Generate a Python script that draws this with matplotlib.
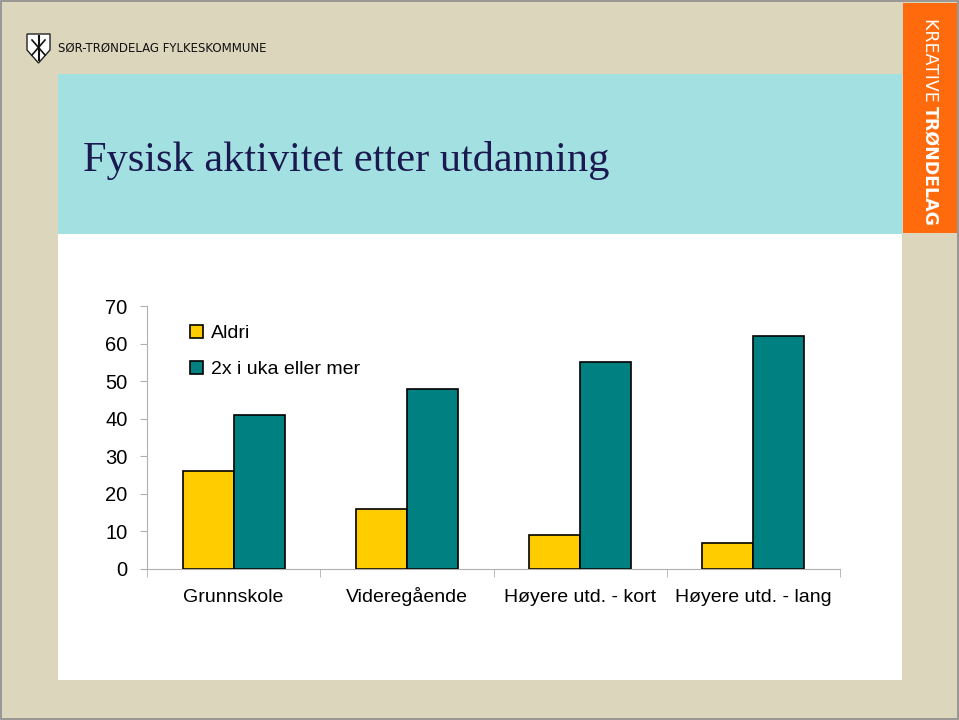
import matplotlib
matplotlib.use('Agg')
import numpy as np
import matplotlib.pyplot as plt
from matplotlib.patches import Rectangle, Polygon

# data
kategorier = ['Grunnskole', 'Videregående', 'Høyere utd. - kort', 'Høyere utd. - lang']
aldri = [26, 16, 9, 7]
to_ganger = [41, 48, 55, 62]
serie_navn = ['Aldri', '2x i uka eller mer']
y_ticks = [0, 10, 20, 30, 40, 50, 60, 70]

W, H = 959, 720
fig = plt.figure(figsize=(W / 100, H / 100), dpi=100)
fig.patch.set_facecolor('#DCD6BD')


def box(x0, y0, x1, y1, **kw):
    # pixel box (top-left origin) -> figure coords, drawn under the axes
    r = Rectangle((x0 / W, 1 - y1 / H), (x1 - x0) / W, (y1 - y0) / H,
                  transform=fig.transFigure, zorder=-10, **kw)
    fig.add_artist(r)
    return r


# side elements of the slide
box(1, 1, 958, 719, facecolor='none', edgecolor='#8c8c8c', lw=1.2)
box(58, 74, 902, 680, facecolor='white', edgecolor='none')
box(58, 74, 902, 234, facecolor='#A3E0E1', edgecolor='none')
box(903, 3, 957, 233, facecolor='#FF6A0D', edgecolor='none')

fig.text(83 / W, 1 - 160 / H, 'Fysisk aktivitet etter utdanning', family='Liberation Serif',
         fontsize=30.5, color='#1a1a50', va='center', ha='left')

# logo (simple shield + name)
shield = Polygon([(27 / W, 1 - 34 / H), (50 / W, 1 - 34 / H), (50 / W, 1 - 50 / H),
                  (38.5 / W, 1 - 63 / H), (27 / W, 1 - 50 / H)],
                 closed=True, transform=fig.transFigure, facecolor='white',
                 edgecolor='#222222', lw=1)
fig.add_artist(shield)
fig.add_artist(plt.Line2D([38.5 / W, 38.5 / W], [1 - 36 / H, 1 - 60 / H],
                          transform=fig.transFigure, color='#111111', lw=1.5))
fig.add_artist(plt.Line2D([32 / W, 45 / W], [1 - 40 / H, 1 - 55 / H],
                          transform=fig.transFigure, color='#111111', lw=1.2))
fig.add_artist(plt.Line2D([45 / W, 32 / W], [1 - 40 / H, 1 - 55 / H],
                          transform=fig.transFigure, color='#111111', lw=1.2))
fig.text(58 / W, 1 - 48 / H, 'SØR-TRØNDELAG FYLKESKOMMUNE', family='DejaVu Sans',
         fontsize=8.5, color='#111111', va='center', ha='left')

# orange strip text
fig.text(930 / W, 1 - 18 / H, 'KREATIVE ', family='DejaVu Sans', fontsize=12.5,
         color='white', rotation=-90, ha='center', va='top')
fig.text(930 / W, 1 - 106 / H, 'TRØNDELAG', family='DejaVu Sans', fontsize=12.5,
         weight='bold', color='white', rotation=-90, ha='center', va='top')

# chart
ax = fig.add_axes([147 / W, 1 - 569 / H, (840 - 147) / W, (569 - 306) / H])
ax.set_facecolor('none')
x = np.arange(len(kategorier))
bw = 0.294
b1 = ax.bar(x - bw / 2, aldri, bw, color='#FFCC00', edgecolor='black', lw=1.2, label=serie_navn[0])
b2 = ax.bar(x + bw / 2, to_ganger, bw, color='#008080', edgecolor='black', lw=1.2, label=serie_navn[1])

ax.set_xlim(-0.5, len(kategorier) - 0.5)
ax.set_ylim(0, 70)
ax.set_yticks(y_ticks)
ax.set_yticklabels([str(v) for v in y_ticks], family='Liberation Sans', fontsize=14.5)
ax.set_xticks(x)
ax.set_xticklabels(kategorier, family='Liberation Sans', fontsize=14, va='baseline')
ax.set_xticks(np.arange(-0.5, len(kategorier)), minor=True)
ax.tick_params(axis='x', which='major', length=0, pad=23.5)
ax.tick_params(axis='x', which='minor', length=6, color='#b0b0b0', direction='out')
ax.tick_params(axis='y', length=5, color='#b0b0b0', pad=9)
for s in ['top', 'right']:
    ax.spines[s].set_visible(False)
ax.spines['left'].set_color('#b0b0b0')
ax.spines['bottom'].set_color('#b0b0b0')

leg = ax.legend(loc='upper left', bbox_to_anchor=(43 / 693, 1 - 19 / 263), frameon=False,
                prop={'family': 'Liberation Sans', 'size': 14}, handlelength=0.65,
                handleheight=0.65, handletextpad=0.45, labelspacing=0.95, borderaxespad=0,
                borderpad=0)

fig.savefig('out.png', dpi=100, facecolor=fig.get_facecolor())
